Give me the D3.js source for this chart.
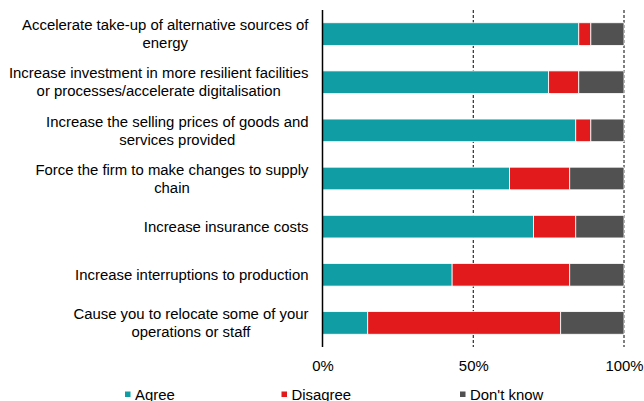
<!DOCTYPE html>
<html>
<head>
<meta charset="utf-8">
<script src="https://cdn.jsdelivr.net/npm/d3@7"></script>
<style>
  html, body { margin: 0; padding: 0; background: #fff; }
  svg { display: block; font-family: "Liberation Sans", Arial, sans-serif; }
</style>
</head>
<body>
<svg id="chart" width="644" height="401"></svg>
<script>
// Survey statements (each label split into its display lines)
const categories = [
  ["Accelerate take-up of alternative sources of", "energy"],
  ["Increase investment in more resilient facilities", "or processes/accelerate digitalisation"],
  ["Increase the selling prices of goods and", "services provided"],
  ["Force the firm to make changes to supply", "chain"],
  ["Increase insurance costs"],
  ["Increase interruptions to production"],
  ["Cause you to relocate some of your", "operations or staff"]
];
const seriesNames = ["Agree", "Disagree", "Don't know"];
const agree    = [85, 75, 84, 62, 70, 43, 15];
const disagree = [4, 10, 5, 20, 14, 39, 64];
const dontKnow = [11, 15, 11, 18, 16, 18, 21];
const tickValues = [0, 50, 100];

const colors = ["#109EA4", "#E21A1C", "#515151"];

const svg = d3.select("#chart");
const margin = { top: 10, left: 322.5, right: 20, bottom: 54 };
const W = 644, H = 401;
const fontSize = 14.9;

const rows = categories.map((c, i) => ({
  key: i,
  "Agree": agree[i],
  "Disagree": disagree[i],
  "Don't know": dontKnow[i]
}));

const x = d3.scaleLinear().domain([0, 100]).range([margin.left, 624]);
const y = d3.scaleBand()
  .domain(d3.range(categories.length))
  .range([margin.top, H - margin.bottom])
  .paddingInner(0.53)
  .paddingOuter(0.265);

// Dashed gridlines (behind bars)
svg.append("g")
  .selectAll("line")
  .data(tickValues.filter(v => v > 0))
  .join("line")
  .attr("x1", d => x(d)).attr("x2", d => x(d))
  .attr("y1", margin.top).attr("y2", H - margin.bottom)
  .attr("stroke", "#000")
  .attr("stroke-width", 1)
  .attr("stroke-dasharray", "3,2");

// Stacked bars
const stack = d3.stack().keys(seriesNames)(rows);
svg.append("g")
  .selectAll("g")
  .data(stack)
  .join("g")
  .attr("fill", (d, i) => colors[i])
  .selectAll("rect")
  .data(d => d)
  .join("rect")
  .attr("x", d => x(d[0]))
  .attr("width", d => x(d[1]) - x(d[0]))
  .attr("y", (d, i) => y(i))
  .attr("height", y.bandwidth())
  .attr("stroke", "#fff")
  .attr("stroke-width", 0.8);

// Vertical axis line at 0%
svg.append("line")
  .attr("x1", x(0)).attr("x2", x(0))
  .attr("y1", margin.top).attr("y2", H - margin.bottom)
  .attr("stroke", "#000")
  .attr("stroke-width", 1.5);

// Bottom axis labels
const xAxis = d3.axisBottom(x)
  .tickValues(tickValues)
  .tickFormat(d => d + "%")
  .tickSize(0)
  .tickPadding(0);
const gx = svg.append("g")
  .attr("transform", `translate(0,${H - margin.bottom + 13})`)
  .call(xAxis);
gx.select(".domain").remove();
gx.selectAll("text")
  .attr("font-family", "Liberation Sans, Arial, sans-serif")
  .attr("font-size", fontSize)
  .attr("fill", "#000");

// Category labels: lines centred on each other, block right-aligned
const labelRight = 308.5;
const lineH = 18;
const labels = svg.append("g")
  .attr("font-size", fontSize)
  .attr("fill", "#000");
categories.forEach((lines, i) => {
  const t = labels.append("text").attr("text-anchor", "middle");
  const spans = lines.map((ln, j) =>
    t.append("tspan").text(ln)
  );
  const widths = spans.map(s => s.node().getComputedTextLength());
  const maxW = d3.max(widths);
  const cx = labelRight - maxW / 2;
  const cy = y(i) + y.bandwidth() / 2;
  const first = cy - (lines.length - 1) * lineH / 2;
  spans.forEach((s, j) => {
    s.attr("x", cx).attr("y", first + j * lineH).attr("dy", "0.35em");
  });
});

// Legend
const legendX = [125, 281.5, 460];
const legend = svg.append("g").attr("font-size", fontSize);
seriesNames.forEach((name, i) => {
  legend.append("rect")
    .attr("x", legendX[i]).attr("y", 391.5)
    .attr("width", 5.5).attr("height", 5.5)
    .attr("fill", colors[i]);
  legend.append("text")
    .attr("x", legendX[i] + 10).attr("y", 400)
    .attr("fill", "#000")
    .text(name);
});
</script>
</body>
</html>
